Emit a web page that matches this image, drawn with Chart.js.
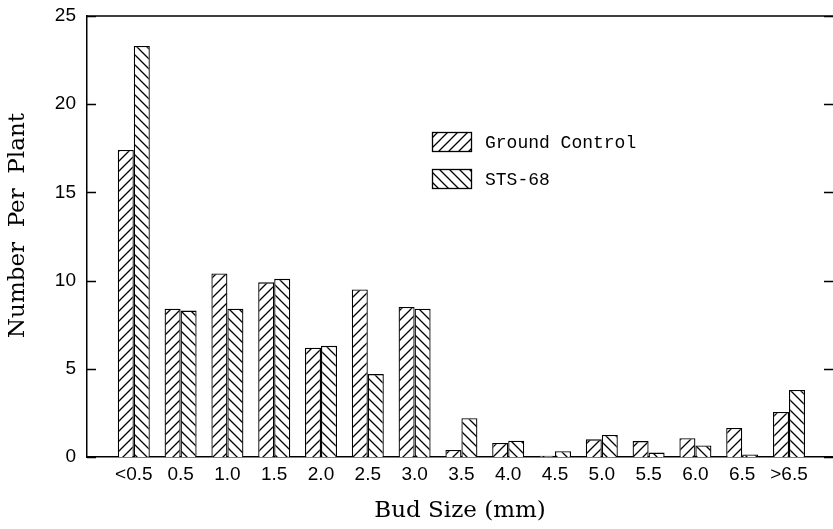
<!DOCTYPE html>
<html>
<head>
<meta charset="utf-8">
<script src="https://cdn.jsdelivr.net/npm/chart.js@4.4.0/dist/chart.umd.min.js"></script>
<style>
  html, body { margin: 0; padding: 0; background: #fff; }
  #wrap { width: 833px; height: 529px; }
</style>
</head>
<body>
<div id="wrap"><canvas id="budChart" width="833" height="529"></canvas></div>
<script>
const categories = ['<0.5', '0.5', '1.0', '1.5', '2.0', '2.5', '3.0', '3.5', '4.0', '4.5', '5.0', '5.5', '6.0', '6.5', '>6.5'];
const groundControl = [17.4, 8.4, 10.4, 9.9, 6.2, 9.5, 8.5, 0.4, 0.8, 0.07, 1.0, 0.9, 1.07, 1.65, 2.55];
const sts68 = [23.3, 8.3, 8.4, 10.1, 6.3, 4.7, 8.4, 2.2, 0.92, 0.33, 1.25, 0.25, 0.65, 0.14, 3.8];
const yTicks = [0, 5, 10, 15, 20, 25];

function makeHatch(forward) {
  const s = 10;
  const c = document.createElement('canvas');
  c.width = s; c.height = s;
  const g = c.getContext('2d');
  g.fillStyle = '#fff';
  g.fillRect(0, 0, s, s);
  g.strokeStyle = '#000';
  g.lineWidth = 1.3;
  g.beginPath();
  if (forward) {
    g.moveTo(-2, s + 2); g.lineTo(s + 2, -2);
    g.moveTo(-2, 2); g.lineTo(2, -2);
    g.moveTo(s - 2, s + 2); g.lineTo(s + 2, s - 2);
  } else {
    g.moveTo(-2, -2); g.lineTo(s + 2, s + 2);
    g.moveTo(-2, s - 2); g.lineTo(2, s + 2);
    g.moveTo(s - 2, -2); g.lineTo(s + 2, 2);
  }
  g.stroke();
  return g.createPattern(c, 'repeat');
}

const gcPattern = makeHatch(true);
const stsPattern = makeHatch(false);

const serif = "'DejaVu Serif', 'Liberation Serif', serif";
const sans = "'Liberation Sans', Arial, sans-serif";
const mono = "'Liberation Mono', 'DejaVu Sans Mono', monospace";

// inward ticks on both sides, top frame line and in-plot legend
const framePlugin = {
  id: 'frame',
  afterDraw(chart) {
    const { ctx, chartArea, scales } = chart;
    const y = scales.y;
    ctx.save();
    ctx.strokeStyle = '#000';
    ctx.lineWidth = 1.5;
    ctx.beginPath();
    ctx.moveTo(chartArea.left, chartArea.top);
    ctx.lineTo(chartArea.right, chartArea.top);
    yTicks.forEach(v => {
      const py = Math.round(y.getPixelForValue(v)) + 0.5;
      ctx.moveTo(chartArea.left, py);
      ctx.lineTo(chartArea.left + 9, py);
      ctx.moveTo(chartArea.right - 9, py);
      ctx.lineTo(chartArea.right, py);
    });
    ctx.stroke();

    // legend
    const lx = 432, ly = [132, 169];
    chart.data.datasets.forEach((ds, i) => {
      ctx.fillStyle = ds.backgroundColor;
      ctx.fillRect(lx, ly[i], 40, 20);
      ctx.lineWidth = 1.3;
      ctx.strokeRect(lx + 0.5, ly[i] + 0.5, 39, 19);
      ctx.fillStyle = '#000';
      ctx.font = '18px ' + mono;
      ctx.textBaseline = 'middle';
      ctx.fillText(ds.label, lx + 53, ly[i] + 11);
    });
    ctx.restore();
  }
};

const ctx = document.getElementById('budChart').getContext('2d');
const chart = new Chart(ctx, {
  type: 'bar',
  data: {
    datasets: [{
      label: 'Ground Control',
      data: groundControl.map((v, i) => ({ x: i, y: v })),
      backgroundColor: gcPattern,
      borderColor: '#000',
      borderWidth: 1.3
    }, {
      label: 'STS-68',
      data: sts68.map((v, i) => ({ x: i, y: v })),
      backgroundColor: stsPattern,
      borderColor: '#000',
      borderWidth: 1.3
    }]
  },
  options: {
    responsive: false,
    animation: false,
    events: [],
    categoryPercentage: 0.684,
    barPercentage: 1,
    layout: { padding: { top: 16, right: 0, left: 0, bottom: 0 } },
    plugins: {
      legend: { display: false },
      tooltip: { enabled: false }
    },
    scales: {
      x: {
        type: 'linear',
        offset: false,
        min: -1,
        max: 14.94,
        grid: { display: false, drawTicks: false },
        border: { display: true, color: '#000', width: 1.5 },
        afterBuildTicks: s => { s.ticks = categories.map((c, i) => ({ value: i })); },
        ticks: {
          autoSkip: false,
          maxRotation: 0,
          padding: 6,
          color: '#000',
          font: { family: sans, size: 19 },
          callback: v => categories[v]
        },
        title: {
          display: true,
          text: 'Bud Size (mm)',
          color: '#000',
          font: { family: serif, size: 23 },
          padding: { top: 0, bottom: 4 }
        },
        afterFit: s => { s.height = 72; s.paddingLeft = 0; s.paddingRight = 0; }
      },
      y: {
        min: 0,
        max: 25,
        grid: { display: false, drawTicks: false },
        border: { display: true, color: '#000', width: 1.5 },
        ticks: {
          stepSize: 5,
          padding: 11,
          color: '#000',
          font: { family: sans, size: 19 }
        },
        title: {
          display: true,
          text: '   Number  Per  Plant',
          color: '#000',
          font: { family: serif, size: 23 },
          padding: { top: 4, bottom: 0 }
        },
        afterFit: s => { s.width = 87; s.paddingTop = 0; s.paddingBottom = 0; }
      }
    }
  },
  plugins: [framePlugin]
});
</script>
</body>
</html>
